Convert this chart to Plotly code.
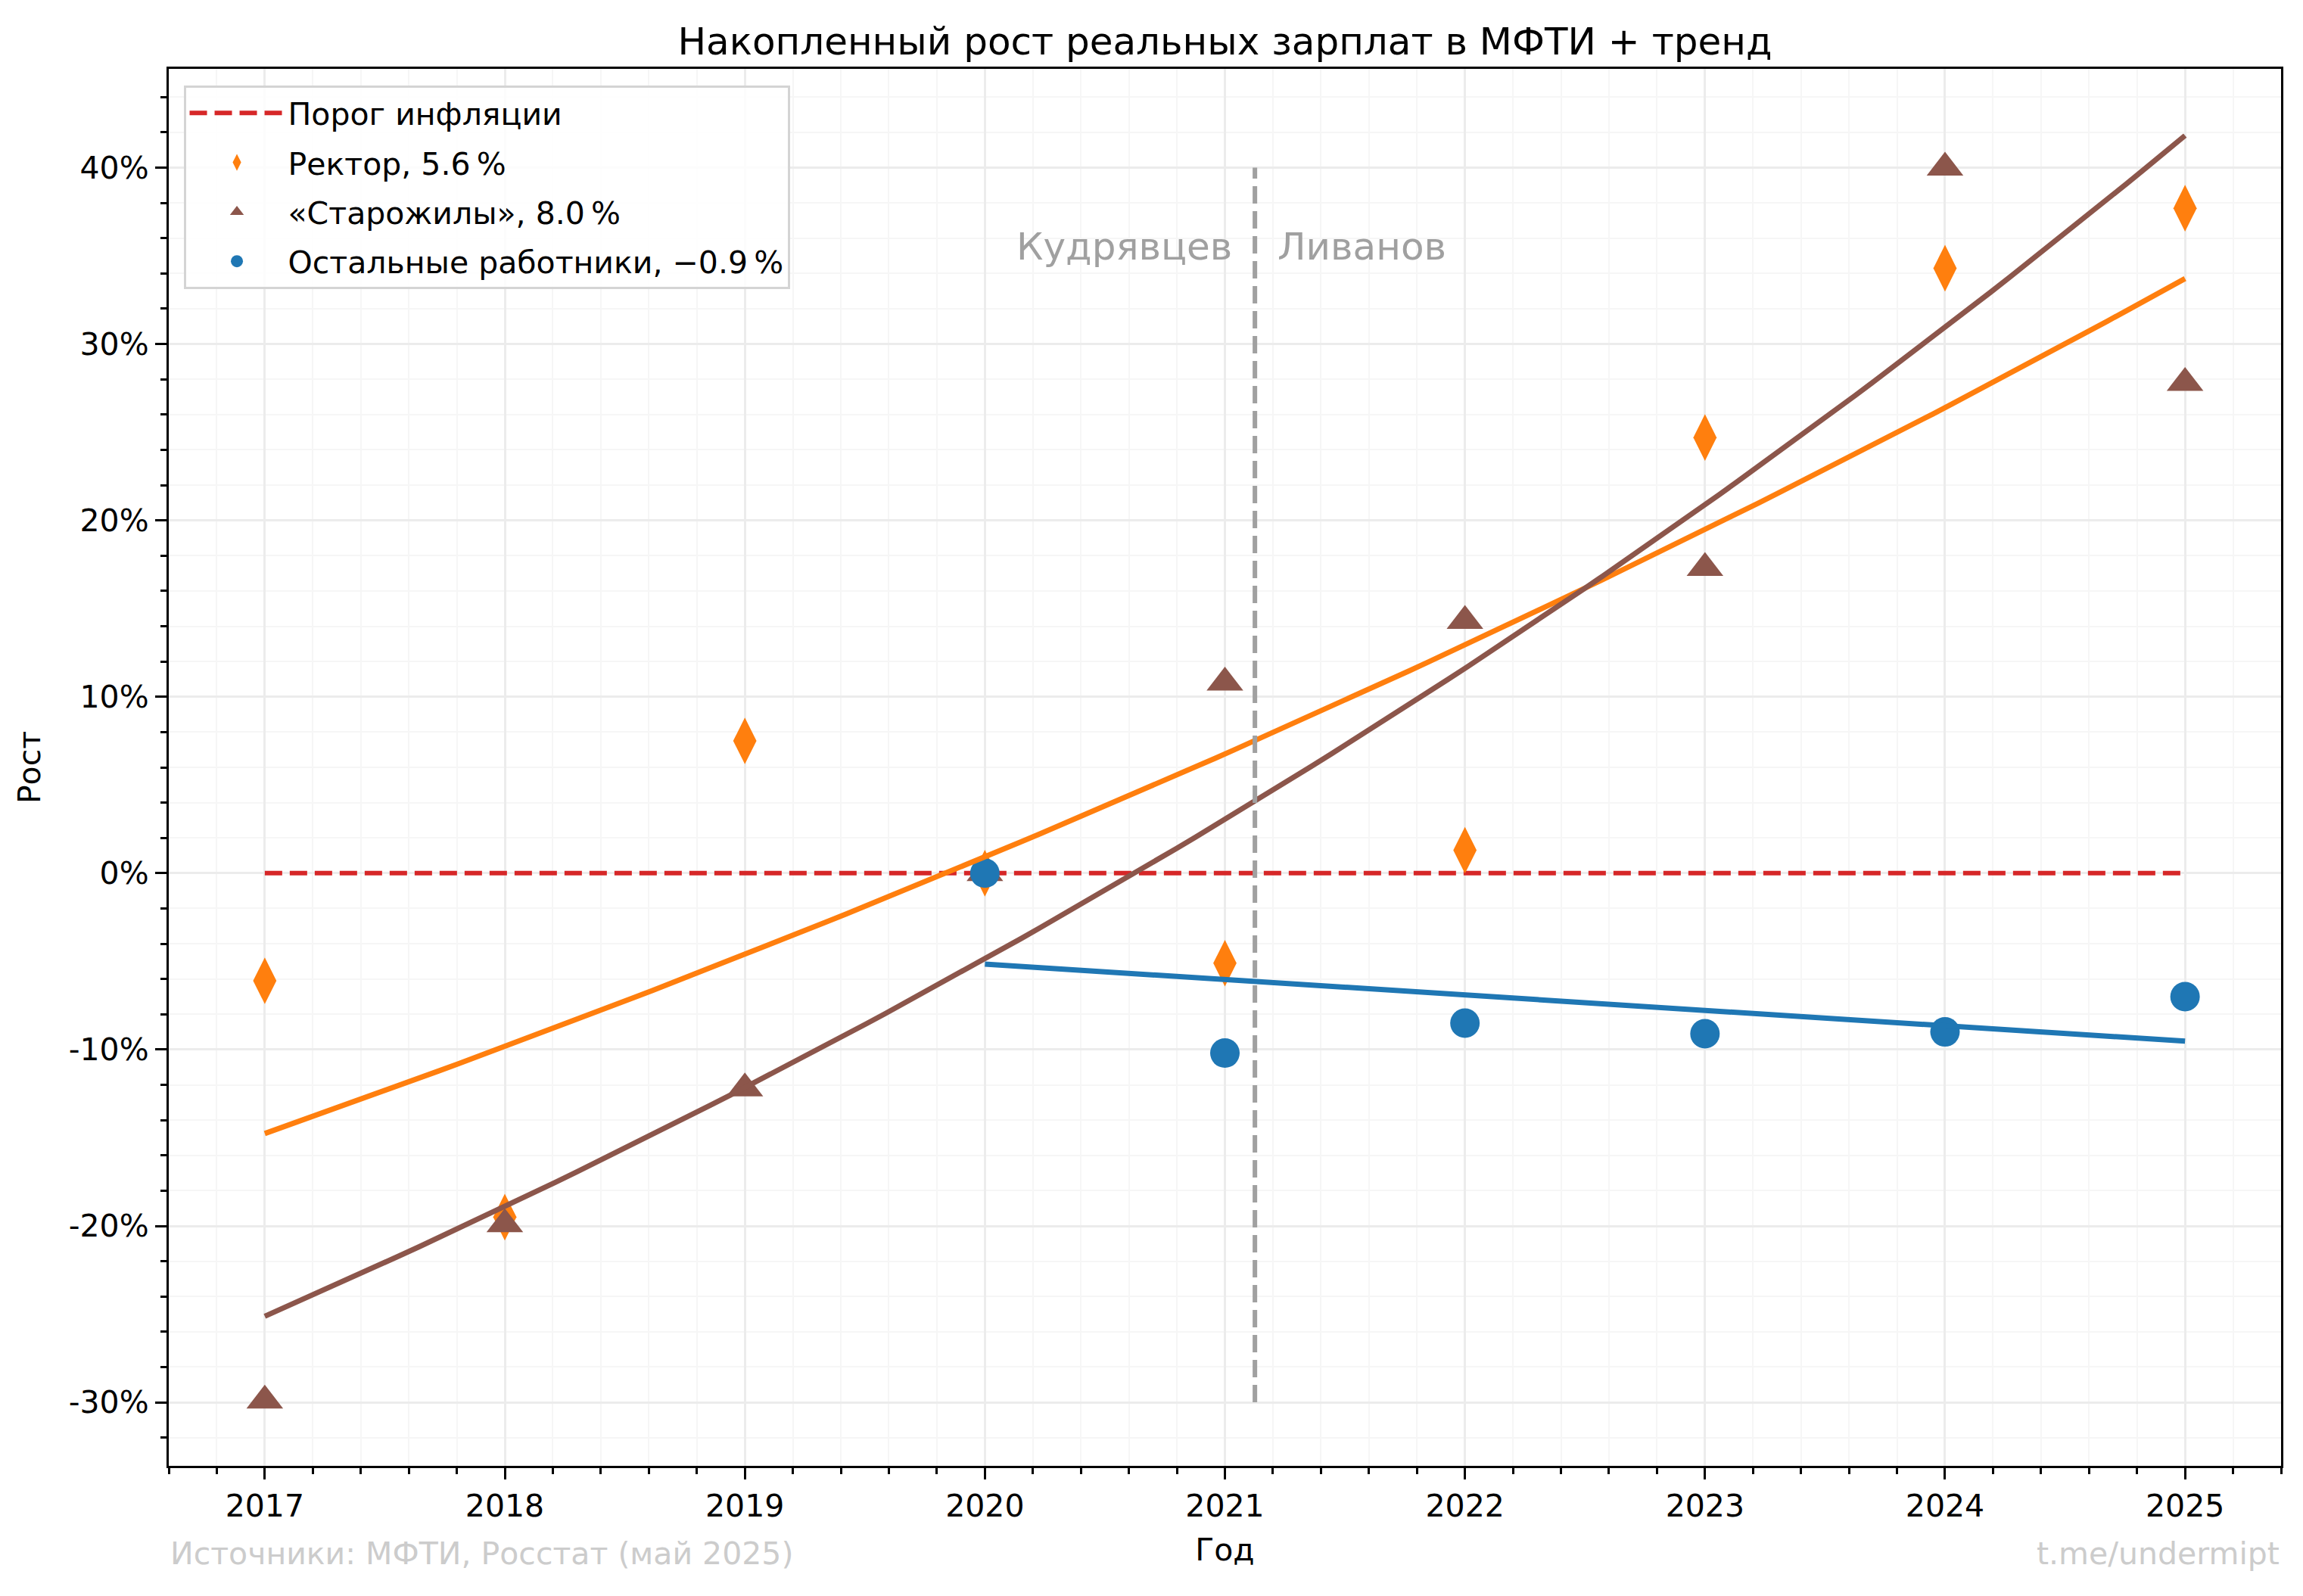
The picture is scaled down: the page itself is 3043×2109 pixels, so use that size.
import numpy as np
import plotly.graph_objects as go

years = [2017, 2018, 2019, 2020, 2021, 2022, 2023, 2024, 2025]
rector = [-0.061, -0.195, 0.075, 0.0, -0.051, 0.013, 0.247, 0.343, 0.377]
oldtimers = [-0.299, -0.199, -0.122, 0.0, 0.108, 0.143, 0.173, 0.400, 0.278]
others_years = [2020, 2021, 2022, 2023, 2024, 2025]
others = [0.0, -0.102, -0.085, -0.091, -0.090, -0.070]

y_tickvals = [-0.3, -0.2, -0.1, 0.0, 0.1, 0.2, 0.3, 0.4]
y_ticktext = ["-30%", "-20%", "-10%", "0%", "10%", "20%", "30%", "40%"]

rector_change = 2021.125

ORANGE = "#ff7f0e"
BROWN = "#8c564b"
BLUE = "#1f77b4"
RED = "#d62728"
FONT = "DejaVu Sans"


def log_trend(x, y):
    # exponential trend: linear fit of log(1 + y)
    x = np.array(x, dtype=float)
    k, b = np.polyfit(x, np.log1p(np.array(y)), 1)
    xs = np.linspace(x[0], x[-1], 100)
    return xs, np.expm1(k * xs + b)


fig = go.Figure()

fig.add_trace(go.Scatter(
    x=[years[0], years[-1]], y=[0, 0], mode="lines",
    line=dict(color=RED, width=6, dash="23px,10px"),
    name="Порог инфляции", legendgroup="g0"
))

fig.add_trace(go.Scatter(
    x=years, y=rector, mode="markers",
    marker=dict(symbol="diamond-tall", size=44, color=ORANGE, line=dict(width=0)),
    name="Ректор, 5.6\u2009%", legendgroup="g1"
))
fig.add_trace(go.Scatter(
    x=years, y=oldtimers, mode="markers",
    marker=dict(symbol="triangle-up", size=42, color=BROWN, line=dict(width=0)),
    name="«Старожилы», 8.0\u2009%", legendgroup="g2"
))
fig.add_trace(go.Scatter(
    x=others_years, y=others, mode="markers",
    marker=dict(symbol="circle", size=39, color=BLUE, line=dict(width=0)),
    name="Остальные работники, \u22120.9\u2009%", legendgroup="g3"
))

for xs_, ys_, c in [(years, rector, ORANGE), (years, oldtimers, BROWN), (others_years, others, BLUE)]:
    tx, ty = log_trend(xs_, ys_)
    fig.add_trace(go.Scatter(
        x=tx, y=ty, mode="lines", line=dict(color=c, width=7),
        showlegend=False, hoverinfo="skip"
    ))

# rector change marker
fig.add_shape(
    type="line", x0=rector_change, x1=rector_change, y0=-0.3, y1=0.4,
    xref="x", yref="y", line=dict(color="#a0a0a0", width=6, dash="23px,10px")
)
fig.add_annotation(x=rector_change, y=0.355, text="Кудрявцев", showarrow=False,
                   xanchor="right", xshift=-28, font=dict(family=FONT, size=50, color="#a0a0a0"))
fig.add_annotation(x=rector_change, y=0.355, text="Ливанов", showarrow=False,
                   xanchor="left", xshift=28, font=dict(family=FONT, size=50, color="#a0a0a0"))

# footer
fig.add_annotation(x=0, y=-0.063, xref="paper", yref="paper", text="Источники: МФТИ, Росстат (май 2025)",
                   showarrow=False, xanchor="left", yanchor="middle",
                   font=dict(family=FONT, size=41, color="#cccccc"))
fig.add_annotation(x=1, y=-0.063, xref="paper", yref="paper", text="t.me/undermipt",
                   showarrow=False, xanchor="right", yanchor="middle",
                   font=dict(family=FONT, size=41, color="#cccccc"))

axis_common = dict(
    showline=True, linecolor="black", linewidth=3.3, mirror=True,
    ticks="outside", ticklen=15, tickwidth=3.3, tickcolor="black",
    showgrid=True, gridcolor="#ececec", gridwidth=3,
    zeroline=False,
    tickfont=dict(family=FONT, size=41, color="black"),
)

fig.update_xaxes(
    range=[2016.6, 2025.4], tickvals=years,
    minor=dict(dtick=0.2, tick0=2017, ticks="outside", ticklen=8, tickwidth=2.5,
               tickcolor="black", showgrid=True, gridcolor="#f6f6f6", gridwidth=2),
    title=dict(text="Год", font=dict(family=FONT, size=41, color="black"), standoff=20),
    **axis_common
)
fig.update_yaxes(
    range=[-0.336, 0.456], tickvals=y_tickvals, ticktext=y_ticktext,
    minor=dict(dtick=0.02, tick0=0, ticks="outside", ticklen=8, tickwidth=2.5,
               tickcolor="black", showgrid=True, gridcolor="#f6f6f6", gridwidth=2),
    title=dict(text="Рост", font=dict(family=FONT, size=41, color="black"), standoff=25),
    **axis_common
)

fig.update_layout(
    width=3035, height=2101,
    margin=dict(l=215, r=29, t=83, b=172),
    paper_bgcolor="white", plot_bgcolor="white",
    font=dict(family=FONT, color="black"),
    title=dict(text="Накопленный рост реальных зарплат в МФТИ + тренд", x=0.5, xref="paper",
               y=0.978, yanchor="middle", font=dict(family=FONT, size=50, color="black")),
    legend=dict(x=0.007, y=0.988, xanchor="left", yanchor="top",
                bgcolor="rgba(255,255,255,0.85)", bordercolor="#d4d4d4", borderwidth=3,
                tracegroupgap=9, itemwidth=125, traceorder="grouped",
                font=dict(family=FONT, size=41, color="black")),
)

fig.write_html("out.html")
